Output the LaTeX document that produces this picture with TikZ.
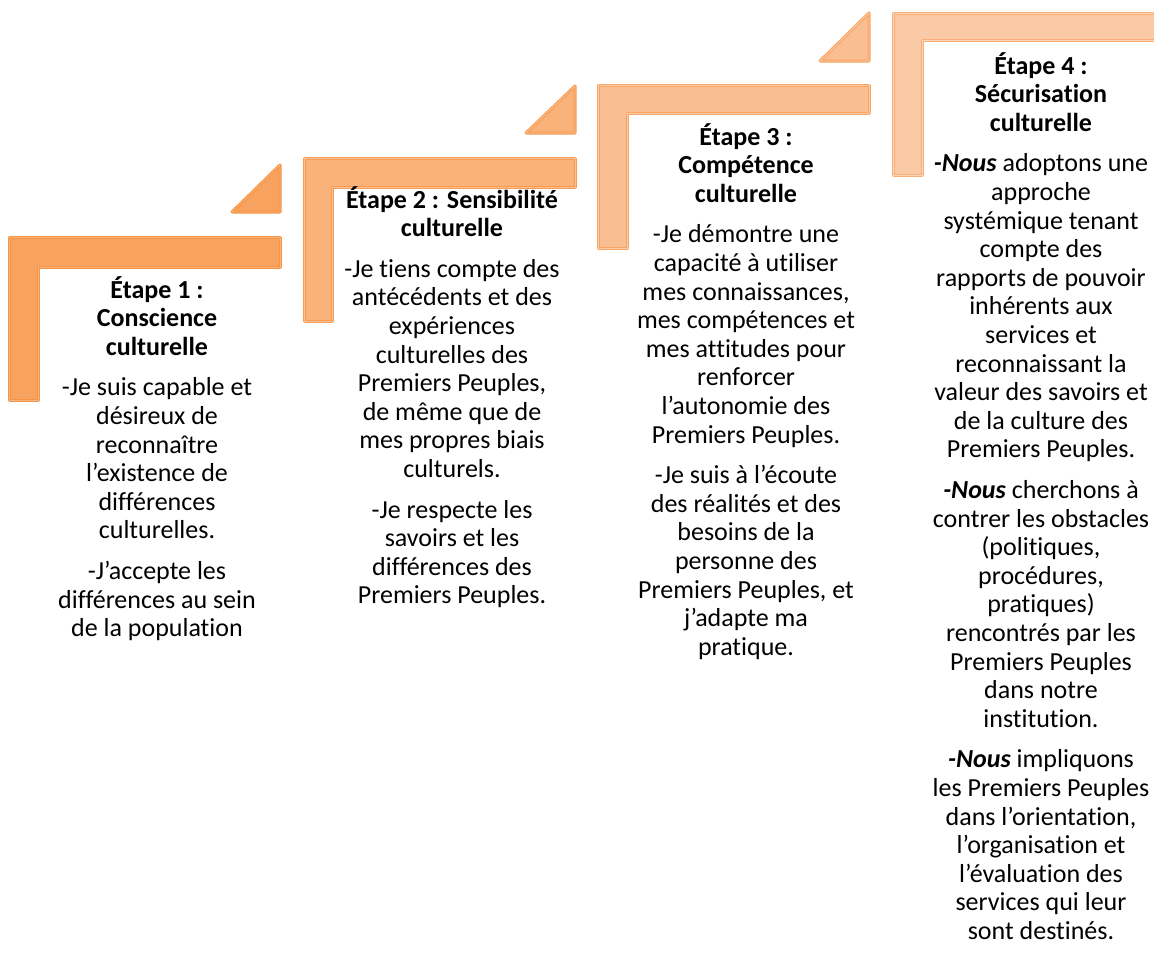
\documentclass[tikz,border=0pt]{standalone}
\usepackage{fontspec}
\setmainfont[Ligatures=NoCommon]{Carlito}
\definecolor{fA}{RGB}{247,163,95}
\definecolor{dA}{RGB}{245,148,68}
\definecolor{hA}{RGB}{250,180,125}
\definecolor{fB}{RGB}{248,178,122}
\definecolor{dB}{RGB}{246,156,84}
\definecolor{hB}{RGB}{250,192,145}
\definecolor{fC}{RGB}{249,190,145}
\definecolor{dC}{RGB}{247,164,100}
\definecolor{hC}{RGB}{251,203,165}
\definecolor{fD}{RGB}{250,202,166}
\definecolor{dD}{RGB}{248,174,118}
\definecolor{hD}{RGB}{252,214,184}
\newcommand{\stagebox}[1]{\parbox[t]{320pt}{\centering\fontsize{26}{28.6}\selectfont #1}}
\newcommand{\nous}{\textbf{\textit{-Nous}}}
\begin{document}
\begin{tikzpicture}[x=1pt,y=-1pt,
  shapebase/.style={line width=3pt, line join=round},
  shA/.style={shapebase, fill=fA, draw=dA},
  shB/.style={shapebase, fill=fB, draw=dB},
  shC/.style={shapebase, fill=fC, draw=dC},
  shD/.style={shapebase, fill=fD, draw=dD},
  hiA/.style={draw=hA, line width=0.8pt, line join=round},
  hiB/.style={draw=hB, line width=0.8pt, line join=round},
  hiC/.style={draw=hC, line width=0.8pt, line join=round},
  hiD/.style={draw=hD, line width=0.8pt, line join=round},
  stagetext/.style={anchor=base, inner sep=0pt, text=black}]
\clip (0,0) rectangle (1154,956);
\fill[white] (0,0) rectangle (1154,956);
% stage 1
\path[shA] (9,237) -- (280,237) -- (280,267) -- (38,267) -- (38,400) -- (9,400) -- cycle;
\path[hiA] (9,237) -- (280,237) -- (280,267) -- (38,267) -- (38,400) -- (9,400) -- cycle;
\path[shA] (232,212) -- (280,212) -- (280,165) -- cycle;
\path[hiA] (232,212) -- (280,212) -- (280,165) -- cycle;
% stage 2
\path[shB] (304,158) -- (575,158) -- (575,187) -- (332,187) -- (332,321) -- (304,321) -- cycle;
\path[hiB] (304,158) -- (575,158) -- (575,187) -- (332,187) -- (332,321) -- (304,321) -- cycle;
\path[shB] (526,133) -- (575,133) -- (575,86) -- cycle;
\path[hiB] (526,133) -- (575,133) -- (575,86) -- cycle;
% stage 3
\path[shC] (598,85) -- (869,85) -- (869,113) -- (627,113) -- (627,248) -- (598,248) -- cycle;
\path[hiC] (598,85) -- (869,85) -- (869,113) -- (627,113) -- (627,248) -- (598,248) -- cycle;
\path[shC] (820,61) -- (869,61) -- (869,13) -- cycle;
\path[hiC] (820,61) -- (869,61) -- (869,13) -- cycle;
% stage 4
\path[shD] (893,13) -- (1165,13) -- (1165,40) -- (922,40) -- (922,175) -- (893,175) -- cycle;
\path[hiD] (893,13) -- (1165,13) -- (1165,40) -- (922,40) -- (922,175) -- (893,175) -- cycle;

\node[stagetext] (t1) at (157,298) {\stagebox{%
\textbf{Étape 1 :}\\ \textbf{Conscience}\\ \textbf{culturelle}\\[12pt]
-Je suis capable et\\ désireux de\\ reconnaître\\ l’existence de\\ différences\\ culturelles.\\[12pt]
-J’accepte les\\ différences au sein\\ de la population}};

\node[stagetext] (t2) at (452,208) {\stagebox{%
\textbf{Étape 2 : Sensibilité}\\ \textbf{culturelle}\\[12pt]
-Je tiens compte des\\ antécédents et des\\ expériences\\ culturelles des\\ Premiers Peuples,\\ de même que de\\ mes propres biais\\ culturels.\\[12pt]
-Je respecte les\\ savoirs et les\\ différences des\\ Premiers Peuples.}};

\node[stagetext] (t3) at (746,145) {\stagebox{%
\textbf{Étape 3 :}\\ \textbf{Compétence}\\ \textbf{culturelle}\\[12pt]
-Je démontre une\\ capacité à utiliser\\ mes connaissances,\\ mes compétences et\\ mes attitudes pour\\ renforcer\\ l’autonomie des\\ Premiers Peuples.\\[12pt]
-Je suis à l’écoute\\ des réalités et des\\ besoins de la\\ personne des\\ Premiers Peuples, et\\ j’adapte ma\\ pratique.}};

\node[stagetext] (t4) at (1041,74) {\stagebox{%
\textbf{Étape 4 :}\\ \textbf{Sécurisation}\\ \textbf{culturelle}\\[12pt]
\nous{} adoptons une\\ approche\\ systémique tenant\\ compte des\\ rapports de pouvoir\\ inhérents aux\\ services et\\ reconnaissant la\\ valeur des savoirs et\\ de la culture des\\ Premiers Peuples.\\[12pt]
\nous{} cherchons à\\ contrer les obstacles\\ (politiques,\\ procédures,\\ pratiques)\\ rencontrés par les\\ Premiers Peuples\\ dans notre\\ institution.\\[12pt]
\nous{} impliquons\\ les Premiers Peuples\\ dans l’orientation,\\ l’organisation et\\ l’évaluation des\\ services qui leur\\ sont destinés.}};
\end{tikzpicture}
\end{document}
